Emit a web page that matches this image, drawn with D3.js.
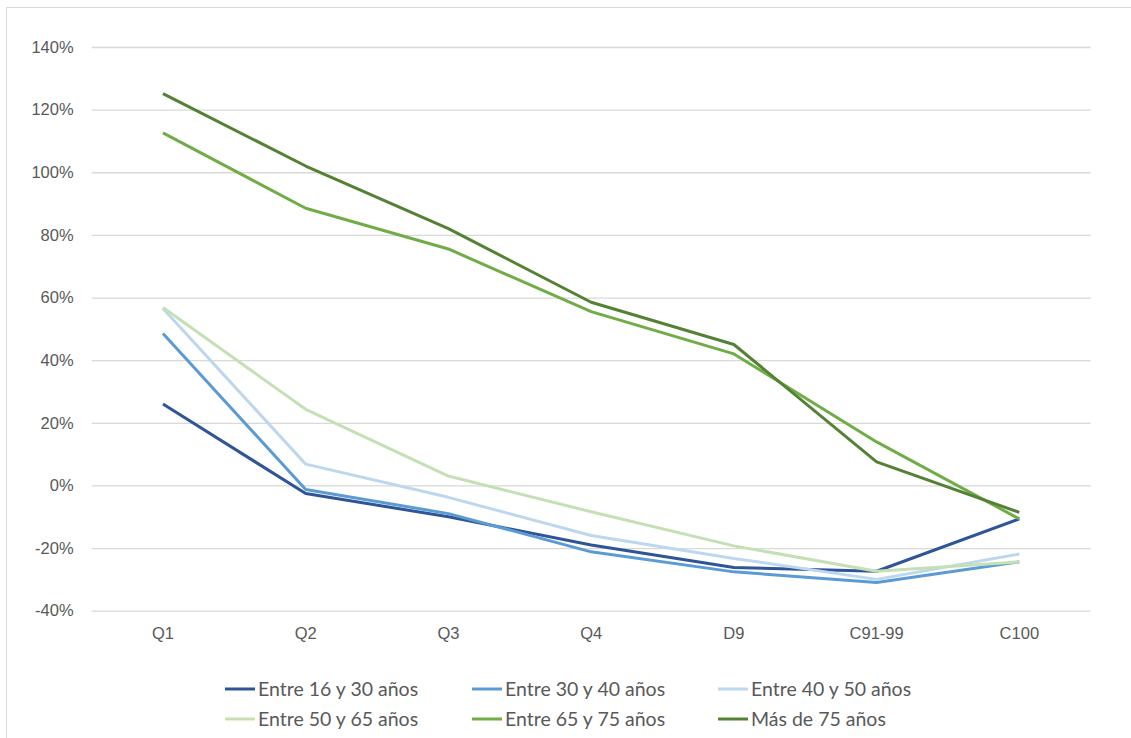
<!DOCTYPE html>
<html>
<head>
<meta charset="utf-8">
<script src="https://cdn.jsdelivr.net/npm/d3@7"></script>
<style>
  body { margin: 0; background: #fff; }
  svg { display: block; font-family: Lato, "Noto Sans", sans-serif; }
</style>
</head>
<body>
<div id="graph-container"></div>
<script>
// data
var categories = ['Q1', 'Q2', 'Q3', 'Q4', 'D9', 'C91-99', 'C100'];
var series_names = ['Entre 16 y 30 años', 'Entre 30 y 40 años', 'Entre 40 y 50 años',
                    'Entre 50 y 65 años', 'Entre 65 y 75 años', 'Más de 75 años'];
var entre_16_30 = [26, -2.6, -10, -19, -26.2, -27.4, -10.7];
var entre_30_40 = [48.5, -1.3, -9, -21.2, -27.6, -31, -24.4];
var entre_40_50 = [56.5, 6.8, -3.8, -16, -23.3, -30, -21.9];
var entre_50_65 = [56.8, 24.3, 3, -8.4, -19.3, -27.4, -24.4];
var entre_65_75 = [112.6, 88.5, 75.5, 55.5, 42, 13.9, -10.7];
var mas_de_75   = [125.1, 102, 82, 58.5, 45, 7.5, -8.6];
var y_ticks = [-40, -20, 0, 20, 40, 60, 80, 100, 120, 140];

var all_values = [entre_16_30, entre_30_40, entre_40_50, entre_50_65, entre_65_75, mas_de_75];
var colors = ['#2F5597', '#5B9BD5', '#BDD7EE', '#C5E0B4', '#70AD47', '#548235'];

var W = 1131, H = 738;
var plot = {left: 91.6, right: 1090.7, top: 47, bottom: 610.7};
var text_color = '#595959';

var svg = d3.select('#graph-container').append('svg')
    .attr('width', W).attr('height', H);

// chart border (only top and left visible in the reference)
svg.append('path')
   .attr('d', `M6.5,${H} V7.5 H${W}`)
   .attr('fill', 'none')
   .attr('stroke', '#d9d9d9')
   .attr('stroke-width', 1);

var x = d3.scaleBand().domain(categories).range([plot.left, plot.right]);
var y = d3.scaleLinear().domain([-40, 140]).range([plot.bottom, plot.top]);

// grid
var y_axis = d3.axisLeft(y).tickValues(y_ticks)
               .tickSize(-(plot.right - plot.left))
               .tickPadding(18)
               .tickFormat(d => d + '%');
var ga = svg.append('g').attr('transform', `translate(${plot.left},0)`).call(y_axis);
ga.select('.domain').remove();
ga.selectAll('.tick line').attr('stroke', '#d9d9d9').attr('stroke-width', 1.3);
ga.selectAll('.tick text').attr('fill', text_color).style('font-size', '16.5px');

var x_axis = d3.axisBottom(x).tickSize(0).tickPadding(17);
var gx = svg.append('g').attr('transform', `translate(0,${plot.bottom})`).call(x_axis);
gx.select('.domain').remove();
gx.selectAll('.tick text').attr('fill', text_color).style('font-size', '16.5px');

// lines
var line = d3.line()
    .x((d, i) => x(categories[i]) + x.bandwidth() / 2)
    .y(d => y(d));

svg.append('g').selectAll('path')
   .data(all_values)
   .enter().append('path')
   .attr('d', line)
   .attr('fill', 'none')
   .attr('stroke', (d, i) => colors[i])
   .attr('stroke-width', 3)
   .attr('stroke-linejoin', 'round');

// legend
var legend_cols = [225, 472, 718];
var legend_rows = [689, 719];
var lg = svg.append('g').selectAll('g')
   .data(series_names)
   .enter().append('g')
   .attr('transform', (d, i) => `translate(${legend_cols[i % 3]},${legend_rows[Math.floor(i / 3)]})`);
lg.append('line')
  .attr('x1', 0).attr('x2', 30)
  .attr('stroke', (d, i) => colors[i])
  .attr('stroke-width', 3);
lg.append('text')
  .attr('x', 33).attr('dy', '0.35em')
  .attr('fill', text_color)
  .style('font-size', '19.5px')
  .text(d => d);
</script>
</body>
</html>
